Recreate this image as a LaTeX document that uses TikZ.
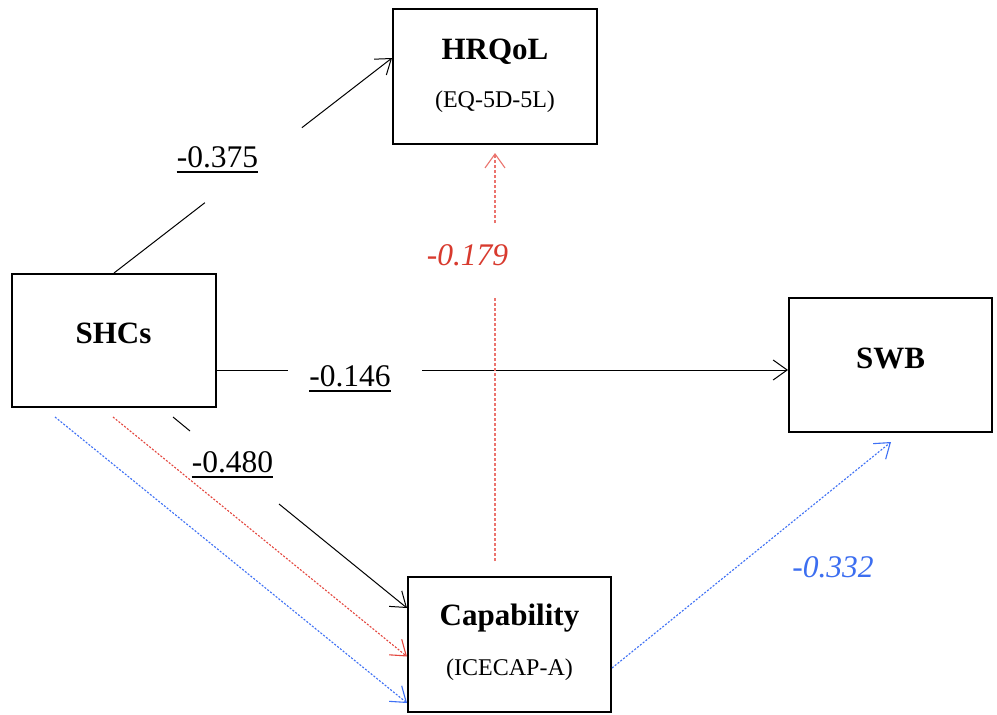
\documentclass[tikz,border=0pt]{standalone}
\usepackage{fontspec}
\setmainfont{Liberation Serif}
\usetikzlibrary{arrows.meta,calc}
\definecolor{lred}{RGB}{228,70,62}
\definecolor{lblue}{RGB}{62,112,245}
\definecolor{tred}{RGB}{216,58,46}
\definecolor{tblue}{RGB}{60,110,240}
\begin{document}
\begin{tikzpicture}[x=1pt,y=-1pt,
  box/.style={draw=black,line width=2pt,fill=white,inner sep=0pt},
  ttl/.style={anchor=base,inner sep=0pt,font=\fontsize{31}{37}\selectfont\bfseries},
  sub/.style={anchor=base,inner sep=0pt,font=\fontsize{24}{29}\selectfont},
  num/.style={anchor=base,inner sep=0pt,font=\fontsize{31.5}{37}\selectfont},
  inum/.style={anchor=base,inner sep=0pt,font=\fontsize{31.5}{37}\selectfont\itshape},
  conn/.style={line width=1pt,black},
  arr/.style={-{Straight Barb[length=14pt,width=20pt]}},
  varr/.style={-{Straight Barb[length=14pt,width=20pt,line width=1.1pt]}},
  rdash/.style={line width=1.1pt,lred,dash pattern=on 2pt off 1.6pt},
  vdash/.style={line width=2pt,lred!75,dash pattern=on 3pt off 2pt},
  bdash/.style={line width=1.1pt,lblue,dash pattern=on 2pt off 1.6pt},
  ul/.style={line width=2pt,black}]
\path[use as bounding box,fill=white] (0,0) rectangle (997,715);

% boxes
\node[box,minimum width=204pt,minimum height=135pt] (hrq) at (495,76.5) {};
\node[box,minimum width=204pt,minimum height=133pt] (shc) at (114,340.5) {};
\node[box,minimum width=203pt,minimum height=134pt] (swb) at (890.5,365) {};
\node[box,minimum width=203pt,minimum height=135pt] (cap) at (509.5,644.5) {};

% box texts
\node[ttl] (hrqT) at (495,59) {HRQoL};
\node[sub] (hrqS) at (495,107) {(EQ-5D-5L)};
\node[ttl] (shcT) at (113.5,343) {SHCs};
\node[ttl] (swbT) at (890.5,368) {SWB};
\node[ttl] (capT) at (509.5,625) {Capability};
\node[sub] (capS) at (509.5,675) {(ICECAP-A)};

% SHCs -> HRQoL
\coordinate (hrqW) at ([yshift=18.5pt]hrq.west);
\coordinate (a1) at ($(shc.north)!0.327!(hrqW)$);
\coordinate (a2) at ($(shc.north)!0.676!(hrqW)$);
\draw[conn] (shc.north) -- (a1);
\draw[conn,arr] (a2) -- (hrqW);

% SHCs -> SWB
\coordinate (b1) at (288,370);
\coordinate (b2) at (422,370);
\draw[conn] (shc.east |- b1) -- (b1);
\draw[conn,arr] (b2) -- (b2 -| swb.west);

% SHCs -> Capability (black)
\coordinate (c0) at (173,417);
\coordinate (c1) at (190,431);
\coordinate (c2) at (279,504);
\draw[conn] (c0) -- (c1);
\draw[conn,arr] (c2) -- ([yshift=36.5pt]cap.west);

% SHCs -> Capability (red, blue dashed)
\coordinate (r0) at (113,417);
\draw[rdash,arr] (r0) -- ([yshift=-12pt]cap.west);
\coordinate (u0) at (55,417);
\draw[bdash,arr] (u0) -- ([yshift=-58.5pt]cap.west);

% Capability -> HRQoL (red dashed)
\coordinate (v0) at (495,561);
\coordinate (v1) at (495,298);
\coordinate (v2) at (495,223);
\coordinate (v3) at (495,153);
\draw[vdash] (v0) -- (v1);
\draw[vdash,varr] (v2) -- (v3);

% Capability -> SWB (blue dashed)
\coordinate (w1) at (891,442);
\draw[bdash,arr] ([yshift=-23.5pt]cap.east) -- (w1);

% labels
\node[num] (l375) at (217.5,167) {-0.375};
\draw[ul] ([yshift=-4.5pt]l375.base west) -- ([yshift=-4.5pt]l375.base east);
\node[num] (l146) at (350,386) {-0.146};
\draw[ul] ([yshift=-4.5pt]l146.base west) -- ([yshift=-4.5pt]l146.base east);
\node[num] (l480) at (232.5,472) {-0.480};
\draw[ul] ([yshift=-4.5pt]l480.base west) -- ([yshift=-4.5pt]l480.base east);
\node[inum,text=tred] (l179) at (467.5,265) {-0.179};
\node[inum,text=tblue] (l332) at (833,577) {-0.332};
\end{tikzpicture}
\end{document}
